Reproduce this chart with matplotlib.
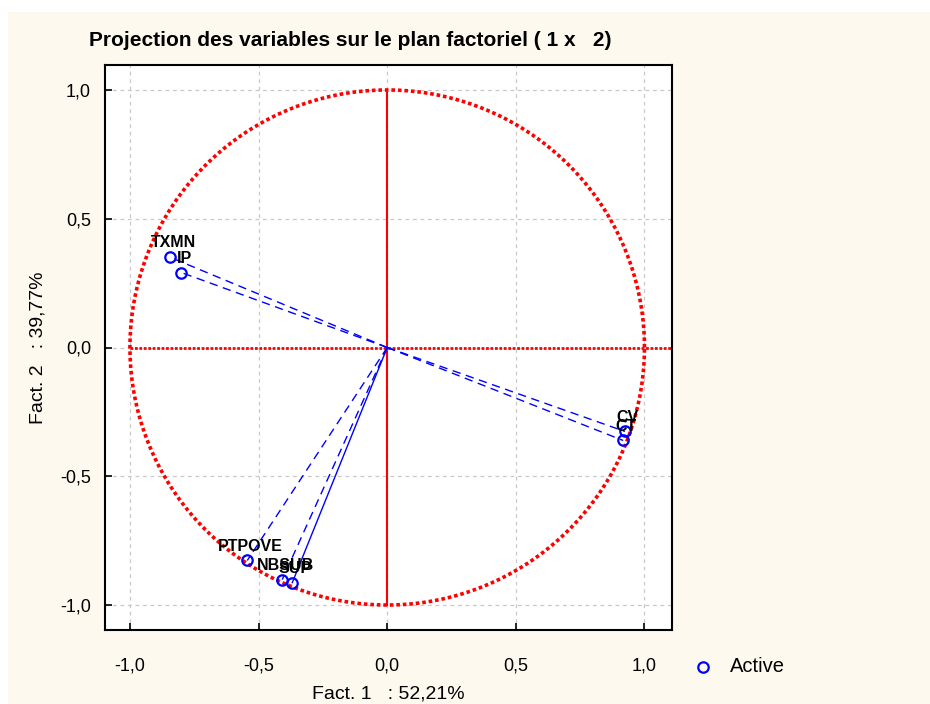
import numpy as np
import matplotlib
matplotlib.use("Agg")
import matplotlib.pyplot as plt
from matplotlib.patches import Rectangle
from matplotlib.lines import Line2D

plt.rcParams['font.family'] = ['Liberation Sans', 'DejaVu Sans']

variables = ["TXMN", "IP", "CV", "CT", "PTPOVE", "NBSUB", "SUP"]
fact1 = [-0.843, -0.800, 0.924, 0.917, -0.544, -0.408, -0.369]
fact2 = [0.350, 0.291, -0.326, -0.361, -0.827, -0.901, -0.913]
line_styles = ["--", "--", "--", "--", "--", "--", "-"]
ticks = [-1.0, -0.5, 0.0, 0.5, 1.0]
tick_labels = ["-1,0", "-0,5", "0,0", "0,5", "1,0"]

fig = plt.figure(figsize=(9.3, 7.04), dpi=100)
fig.patch.set_facecolor("white")
fig.patches.append(Rectangle((8/930, 0), 1, 1 - 12/704, transform=fig.transFigure,
                             facecolor="#FDF9EE", edgecolor="none", zorder=-10))

ax = fig.add_axes([105/930, 1 - 630/704, 567/930, 565/704])
ax.set_facecolor("white")
ax.set_xlim(-1.097, 1.107)
ax.set_ylim(-1.097, 1.097)

ax.set_xticks(ticks)
ax.set_xticklabels(tick_labels)
ax.set_yticks(ticks)
ax.set_yticklabels(tick_labels)
ax.tick_params(direction="in", length=5, width=1.2, labelsize=13, colors="black")
ax.tick_params(axis="x", pad=20)
ax.tick_params(axis="y", pad=10)
for s in ax.spines.values():
    s.set_linewidth(1.5)
ax.grid(True, color="#c8c8c8", linestyle=(0, (3, 3)), linewidth=0.9)
ax.set_axisbelow(True)

# unit circle
theta = np.linspace(0, 2*np.pi, 721)
ax.plot(np.cos(theta), np.sin(theta), color="red", linestyle=(0, (1, 0.8)), linewidth=2.6, zorder=2)
# axes lines
ax.plot([0, 0], [-1, 1], color="red", linewidth=1.5, zorder=2)
ax.plot([-1, 1.107], [0, 0], color="red", linestyle=(0, (1, 0.6)), linewidth=2.0, zorder=2)

for x, y, ls in zip(fact1, fact2, line_styles):
    ax.plot([0, x], [0, y], color="blue", linestyle=ls if ls == "-" else (0, (6, 4)),
            linewidth=1.0, zorder=3)

ax.plot(fact1, fact2, linestyle="none", marker="o", markersize=7.5, markerfacecolor="none",
        markeredgecolor="blue", markeredgewidth=1.6, zorder=4)

for name, x, y in zip(variables, fact1, fact2):
    ax.annotate(name, (x, y), xytext=(2, 5), textcoords="offset points", ha="center",
                va="bottom", fontsize=11.5, fontweight="bold", color="black", zorder=5)

fig.text(350/930, 1 - 40/704, "Projection des variables sur le plan factoriel ( 1 x   2)",
         fontsize=15, fontweight="bold", ha="center", va="center")
ax.set_xlabel("Fact. 1   : 52,21%", fontsize=14, labelpad=8)
ax.set_ylabel("Fact. 2   : 39,77%", fontsize=14, labelpad=10)

fig.add_artist(Line2D([703/930], [1 - 667/704], transform=fig.transFigure, linestyle="none",
                      marker="o", markersize=7.5, markerfacecolor="none",
                      markeredgecolor="blue", markeredgewidth=1.6))
fig.text(730/930, 1 - 667/704, "Active", fontsize=14.5, ha="left", va="center")

fig.savefig("out.png", dpi=100, facecolor=fig.get_facecolor())
